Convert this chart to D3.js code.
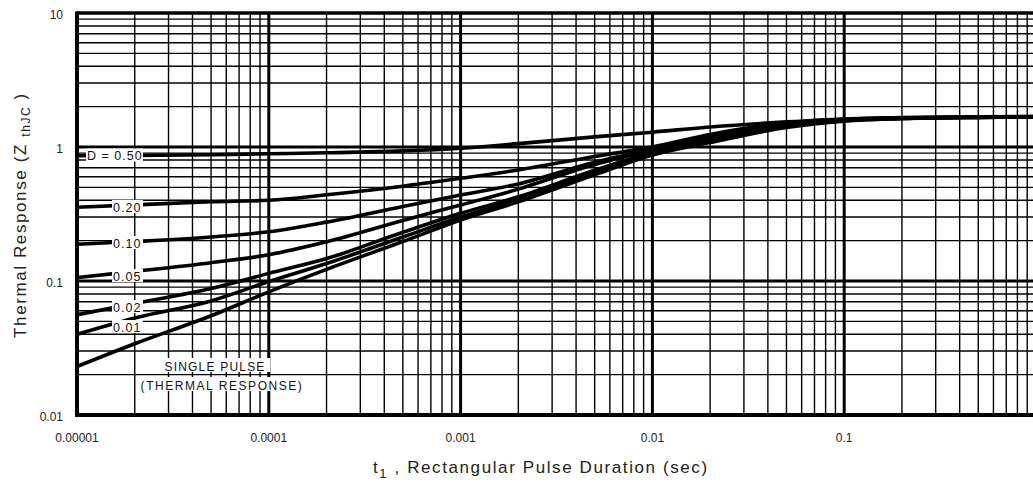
<!DOCTYPE html>
<html><head><meta charset="utf-8">
<script src="https://cdn.jsdelivr.net/npm/d3@7"></script>
<style>
html,body{margin:0;padding:0;background:#fff;}
svg{display:block;font-family:"Liberation Sans",Arial,sans-serif;}
</style></head>
<body>
<svg id="c" width="1033" height="484"></svg>
<script>
// ---- data ----
const tValues = [1e-5, 2e-5, 5e-5, 1e-4, 2e-4, 5e-4, 1e-3, 2e-3, 5e-3, 1e-2, 2e-2, 5e-2, 0.1, 0.2, 0.5, 1];
const d050   = [0.86, 0.865, 0.875, 0.89, 0.905, 0.935, 0.98, 1.06, 1.19, 1.29, 1.41, 1.54, 1.62, 1.66, 1.68, 1.69];
const d020   = [0.355, 0.37, 0.39, 0.40, 0.44, 0.51, 0.584, 0.674, 0.85, 1.00, 1.24, 1.51, 1.61, 1.65, 1.675, 1.685];
const d010   = [0.188, 0.197, 0.213, 0.233, 0.275, 0.36, 0.438, 0.53, 0.77, 0.96, 1.18, 1.48, 1.60, 1.645, 1.67, 1.68];
const d005   = [0.106, 0.118, 0.137, 0.157, 0.196, 0.283, 0.369, 0.485, 0.74, 0.94, 1.15, 1.46, 1.59, 1.64, 1.67, 1.68];
const d002   = [0.056, 0.068, 0.088, 0.114, 0.147, 0.231, 0.32, 0.425, 0.67, 0.91, 1.12, 1.44, 1.58, 1.635, 1.665, 1.68];
const d001   = [0.040, 0.053, 0.071, 0.099, 0.135, 0.213, 0.30, 0.405, 0.645, 0.89, 1.10, 1.42, 1.57, 1.63, 1.665, 1.68];
const single = [0.023, 0.034, 0.055, 0.083, 0.122, 0.197, 0.285, 0.39, 0.62, 0.87, 1.08, 1.40, 1.56, 1.63, 1.665, 1.68];
const seriesList = [d050, d020, d010, d005, d002, d001, single];
const curveLabels = ["D = 0.50", "0.20", "0.10", "0.05", "0.02", "0.01"];
const singleLabel = ["SINGLE PULSE", "(THERMAL RESPONSE)"];
const xTickLabels = ["0.00001", "0.0001", "0.001", "0.01", "0.1"];
const yTickLabels = ["0.01", "0.1", "1", "10"];
const xTitle = ["t", "1", " , Rectangular Pulse Duration (sec)"];
const yTitle = ["Thermal Response (Z ", "thJC", " )"];

// ---- drawing ----
const svg = d3.select("#c");
const L = 77, R = 1036, T = 13, B = 415;
const x = d3.scaleLog().domain([1e-5, 1]).range([L, R]);
const y = d3.scaleLog().domain([0.01, 10]).range([B, T]);

const grid = svg.append("g");
const xDecades = [1e-5, 1e-4, 1e-3, 1e-2, 1e-1];
xDecades.forEach(d => {
  for (let k = 1; k <= 9; k++) {
    const v = d * k;
    if (k === 1 && d === 1e-5) continue;
    grid.append("line").attr("x1", x(v)).attr("x2", x(v)).attr("y1", T).attr("y2", B)
      .attr("stroke", "#000").attr("stroke-width", k === 1 ? 3 : 1.4);
  }
});
const yDecades = [0.01, 0.1, 1];
yDecades.forEach(d => {
  for (let k = 1; k <= 9; k++) {
    const v = d * k;
    if (k === 1 && d === 0.01) continue;
    grid.append("line").attr("x1", L).attr("x2", R).attr("y1", y(v)).attr("y2", y(v))
      .attr("stroke", "#000").attr("stroke-width", k === 1 ? 3 : 1.4);
  }
});
grid.append("line").attr("x1", L).attr("x2", R).attr("y1", T).attr("y2", T).attr("stroke", "#000").attr("stroke-width", 3.5);
grid.append("line").attr("x1", L).attr("x2", R).attr("y1", B).attr("y2", B).attr("stroke", "#000").attr("stroke-width", 4);
grid.append("line").attr("x1", L).attr("x2", L).attr("y1", T - 1.5).attr("y2", B + 2).attr("stroke", "#000").attr("stroke-width", 4);

// curves
const line = d3.line().x(d => x(d[0])).y(d => y(d[1])).curve(d3.curveMonotoneX);
seriesList.forEach(s => {
  svg.append("path").datum(tValues.map((t, i) => [t, s[i]]))
    .attr("d", line).attr("fill", "none").attr("stroke", "#000")
    .attr("stroke-width", 3.6).attr("stroke-linejoin", "round");
});

// curve labels with white background
const lblG = svg.append("g");
const labelY = [155.5, 207, 243, 276, 307, 327];
curveLabels.forEach((txt, i) => {
  const yy = labelY[i];
  const isD = i === 0;
  const x0 = isD ? 86 : 112;
  const x1 = 143;
  lblG.append("rect").attr("x", x0).attr("y", yy - 7).attr("width", x1 - x0).attr("height", 13).attr("fill", "#fff");
  lblG.append("text").attr("x", isD ? 87 : 113).attr("y", yy + 4.5)
    .attr("font-size", 12.5).attr("letter-spacing", 1).attr("fill", "#111").text(txt);
});
[[215, 366, 160, 270, 1.2], [222, 385, 137, 306, 1.55]].forEach((p, i) => {
  lblG.append("rect").attr("x", p[2]).attr("y", p[1] - 8).attr("width", p[3] - p[2]).attr("height", 14).attr("fill", "#fff");
  lblG.append("text").attr("x", p[0]).attr("y", p[1] + 4.5).attr("text-anchor", "middle")
    .attr("font-size", 12).attr("letter-spacing", p[4]).attr("fill", "#111").text(singleLabel[i]);
});

// tick labels
const xt = svg.append("g").attr("font-size", 12).attr("fill", "#222");
xTickLabels.forEach((s, i) => {
  xt.append("text").attr("x", x(xDecades[i])).attr("y", 442).attr("text-anchor", "middle").text(s);
});
const yVals = [0.01, 0.1, 1, 10];
yTickLabels.forEach((s, i) => {
  xt.append("text").attr("x", 63).attr("y", y(yVals[i]) + 6).attr("text-anchor", "end").text(s);
});

// axis titles
const xtTxt = svg.append("text").attr("x", 373).attr("y", 473).attr("font-size", 17).attr("letter-spacing", 1.6).attr("fill", "#222");
xtTxt.append("tspan").text(xTitle[0]);
xtTxt.append("tspan").attr("font-size", 13).attr("dy", 5).text(xTitle[1]);
xtTxt.append("tspan").attr("dy", -5).text(xTitle[2]);

const ytTxt = svg.append("text").attr("transform", "translate(26,215) rotate(-90)").attr("text-anchor", "middle")
  .attr("font-size", 17).attr("letter-spacing", 1.6).attr("fill", "#222");
ytTxt.append("tspan").text(yTitle[0]);
ytTxt.append("tspan").attr("font-size", 12).attr("dy", 4).text(yTitle[1]);
ytTxt.append("tspan").attr("dy", -4).text(yTitle[2]);
</script>
</body></html>
